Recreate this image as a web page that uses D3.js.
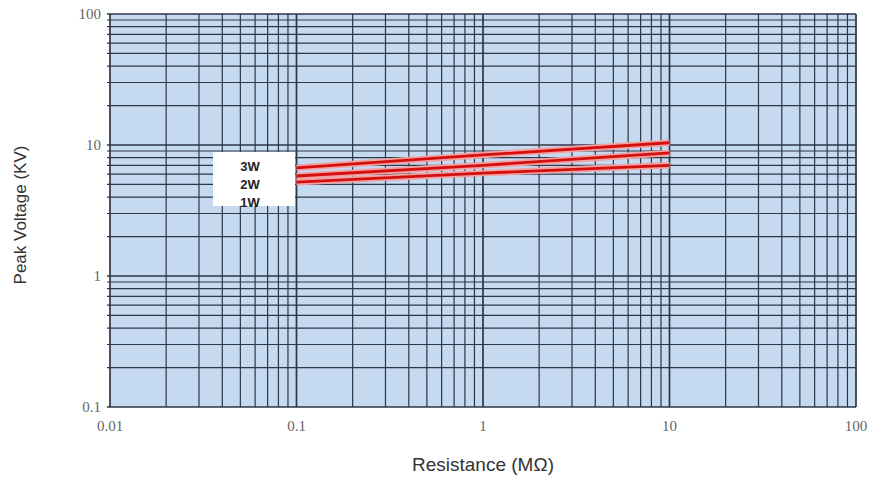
<!DOCTYPE html>
<html>
<head>
<meta charset="utf-8">
<script src="https://cdn.jsdelivr.net/npm/d3@7"></script>
<style>
  body { margin: 0; background: #fff; }
  .tick-lbl { font-family: "Liberation Serif", serif; font-size: 15px; fill: #666; }
  .title { font-family: "Liberation Sans", Arial, sans-serif; font-size: 17px; fill: #333; }
  .legend { font-family: "Liberation Sans", Arial, sans-serif; font-size: 13px; font-weight: bold; fill: #222; }
</style>
</head>
<body>
<div class="content"></div>
<script>
// resistance in megohms at the three decade lines
var resistance = [0.1, 1, 10];
var series = ["3W", "2W", "1W"];
var volt3W = [6.7, 8.4, 10.4];
var volt2W = [5.8, 7.0, 8.7];
var volt1W = [5.2, 6.1, 7.0];
var xTicks = [0.01, 0.1, 1, 10, 100];
var yTicks = [0.1, 1, 10, 100];

var lines = [volt3W, volt2W, volt1W];

var svg = d3.select(".content")
  .append("svg")
  .attr("width", 870)
  .attr("height", 481)

var x = d3.scaleLog().domain([0.01, 100]).range([110, 856])
var y = d3.scaleLog().domain([0.1, 100]).range([407, 14])

// plot background
svg.append("rect")
  .attr("x", x(0.01)).attr("y", y(100))
  .attr("width", x(100) - x(0.01))
  .attr("height", y(0.1) - y(100))
  .attr("fill", "#c5d9f1")

// grid lines for 1..9 in each decade
function gridValues(lo, hi) {
  var out = [];
  for (var d = lo; d < hi; d *= 10) {
    for (var k = 1; k < 10; k++) out.push(d * k);
  }
  out.push(hi);
  return out;
}

svg.append("g").selectAll("line")
  .data(gridValues(0.01, 100))
  .enter().append("line")
  .attr("x1", function(d) { return x(d) })
  .attr("x2", function(d) { return x(d) })
  .attr("y1", y(100))
  .attr("y2", y(0.1))
  .attr("stroke", "#2c3644")
  .attr("stroke-width", function(d) { return xTicks.indexOf(d) >= 0 ? 1.7 : 1.2 })

svg.append("g").selectAll("line")
  .data(gridValues(0.1, 100))
  .enter().append("line")
  .attr("x1", x(0.01) - 3)
  .attr("x2", x(100))
  .attr("y1", function(d) { return y(d) })
  .attr("y2", function(d) { return y(d) })
  .attr("stroke", "#2c3644")
  .attr("stroke-width", function(d) { return yTicks.indexOf(d) >= 0 ? 1.7 : 1.2 })

// tick labels
svg.append("g").selectAll("text")
  .data(xTicks)
  .enter().append("text")
  .attr("class", "tick-lbl")
  .attr("x", function(d) { return x(d) })
  .attr("y", 431)
  .attr("text-anchor", "middle")
  .text(function(d) { return d })

svg.append("g").selectAll("text")
  .data(yTicks)
  .enter().append("text")
  .attr("class", "tick-lbl")
  .attr("x", 101)
  .attr("y", function(d) { return y(d) + 5 })
  .attr("text-anchor", "end")
  .text(function(d) { return d })

// curves: pale halo under a red core
var line = d3.line()
  .x(function(d, i) { return x(resistance[i]) })
  .y(function(d) { return y(d) })

var g = svg.append("g")
g.selectAll("path.halo")
  .data(lines)
  .enter().append("path")
  .attr("class", "halo")
  .attr("d", line)
  .attr("fill", "none")
  .attr("stroke", "#f3a0a0")
  .attr("stroke-width", 6.5)
g.selectAll("path.core")
  .data(lines)
  .enter().append("path")
  .attr("class", "core")
  .attr("d", line)
  .attr("fill", "none")
  .attr("stroke", "#d40f0f")
  .attr("stroke-width", 2.8)

// legend box
svg.append("rect")
  .attr("x", 213).attr("y", 152)
  .attr("width", 82).attr("height", 54)
  .attr("fill", "#fff")

svg.append("g").selectAll("text")
  .data(series)
  .enter().append("text")
  .attr("class", "legend")
  .attr("x", 250)
  .attr("y", function(d, i) { return 171 + i * 18 })
  .attr("text-anchor", "middle")
  .text(function(d) { return d })

// axis titles
svg.append("text")
  .attr("class", "title")
  .attr("text-anchor", "middle")
  .attr("transform", "translate(26,215) rotate(-90)")
  .text("Peak Voltage (KV)")

svg.append("text")
  .attr("class", "title")
  .attr("text-anchor", "middle")
  .attr("x", 483)
  .attr("y", 471)
  .style("font-size", "19px")
  .text("Resistance (M\u03A9)")
</script>
</body>
</html>
